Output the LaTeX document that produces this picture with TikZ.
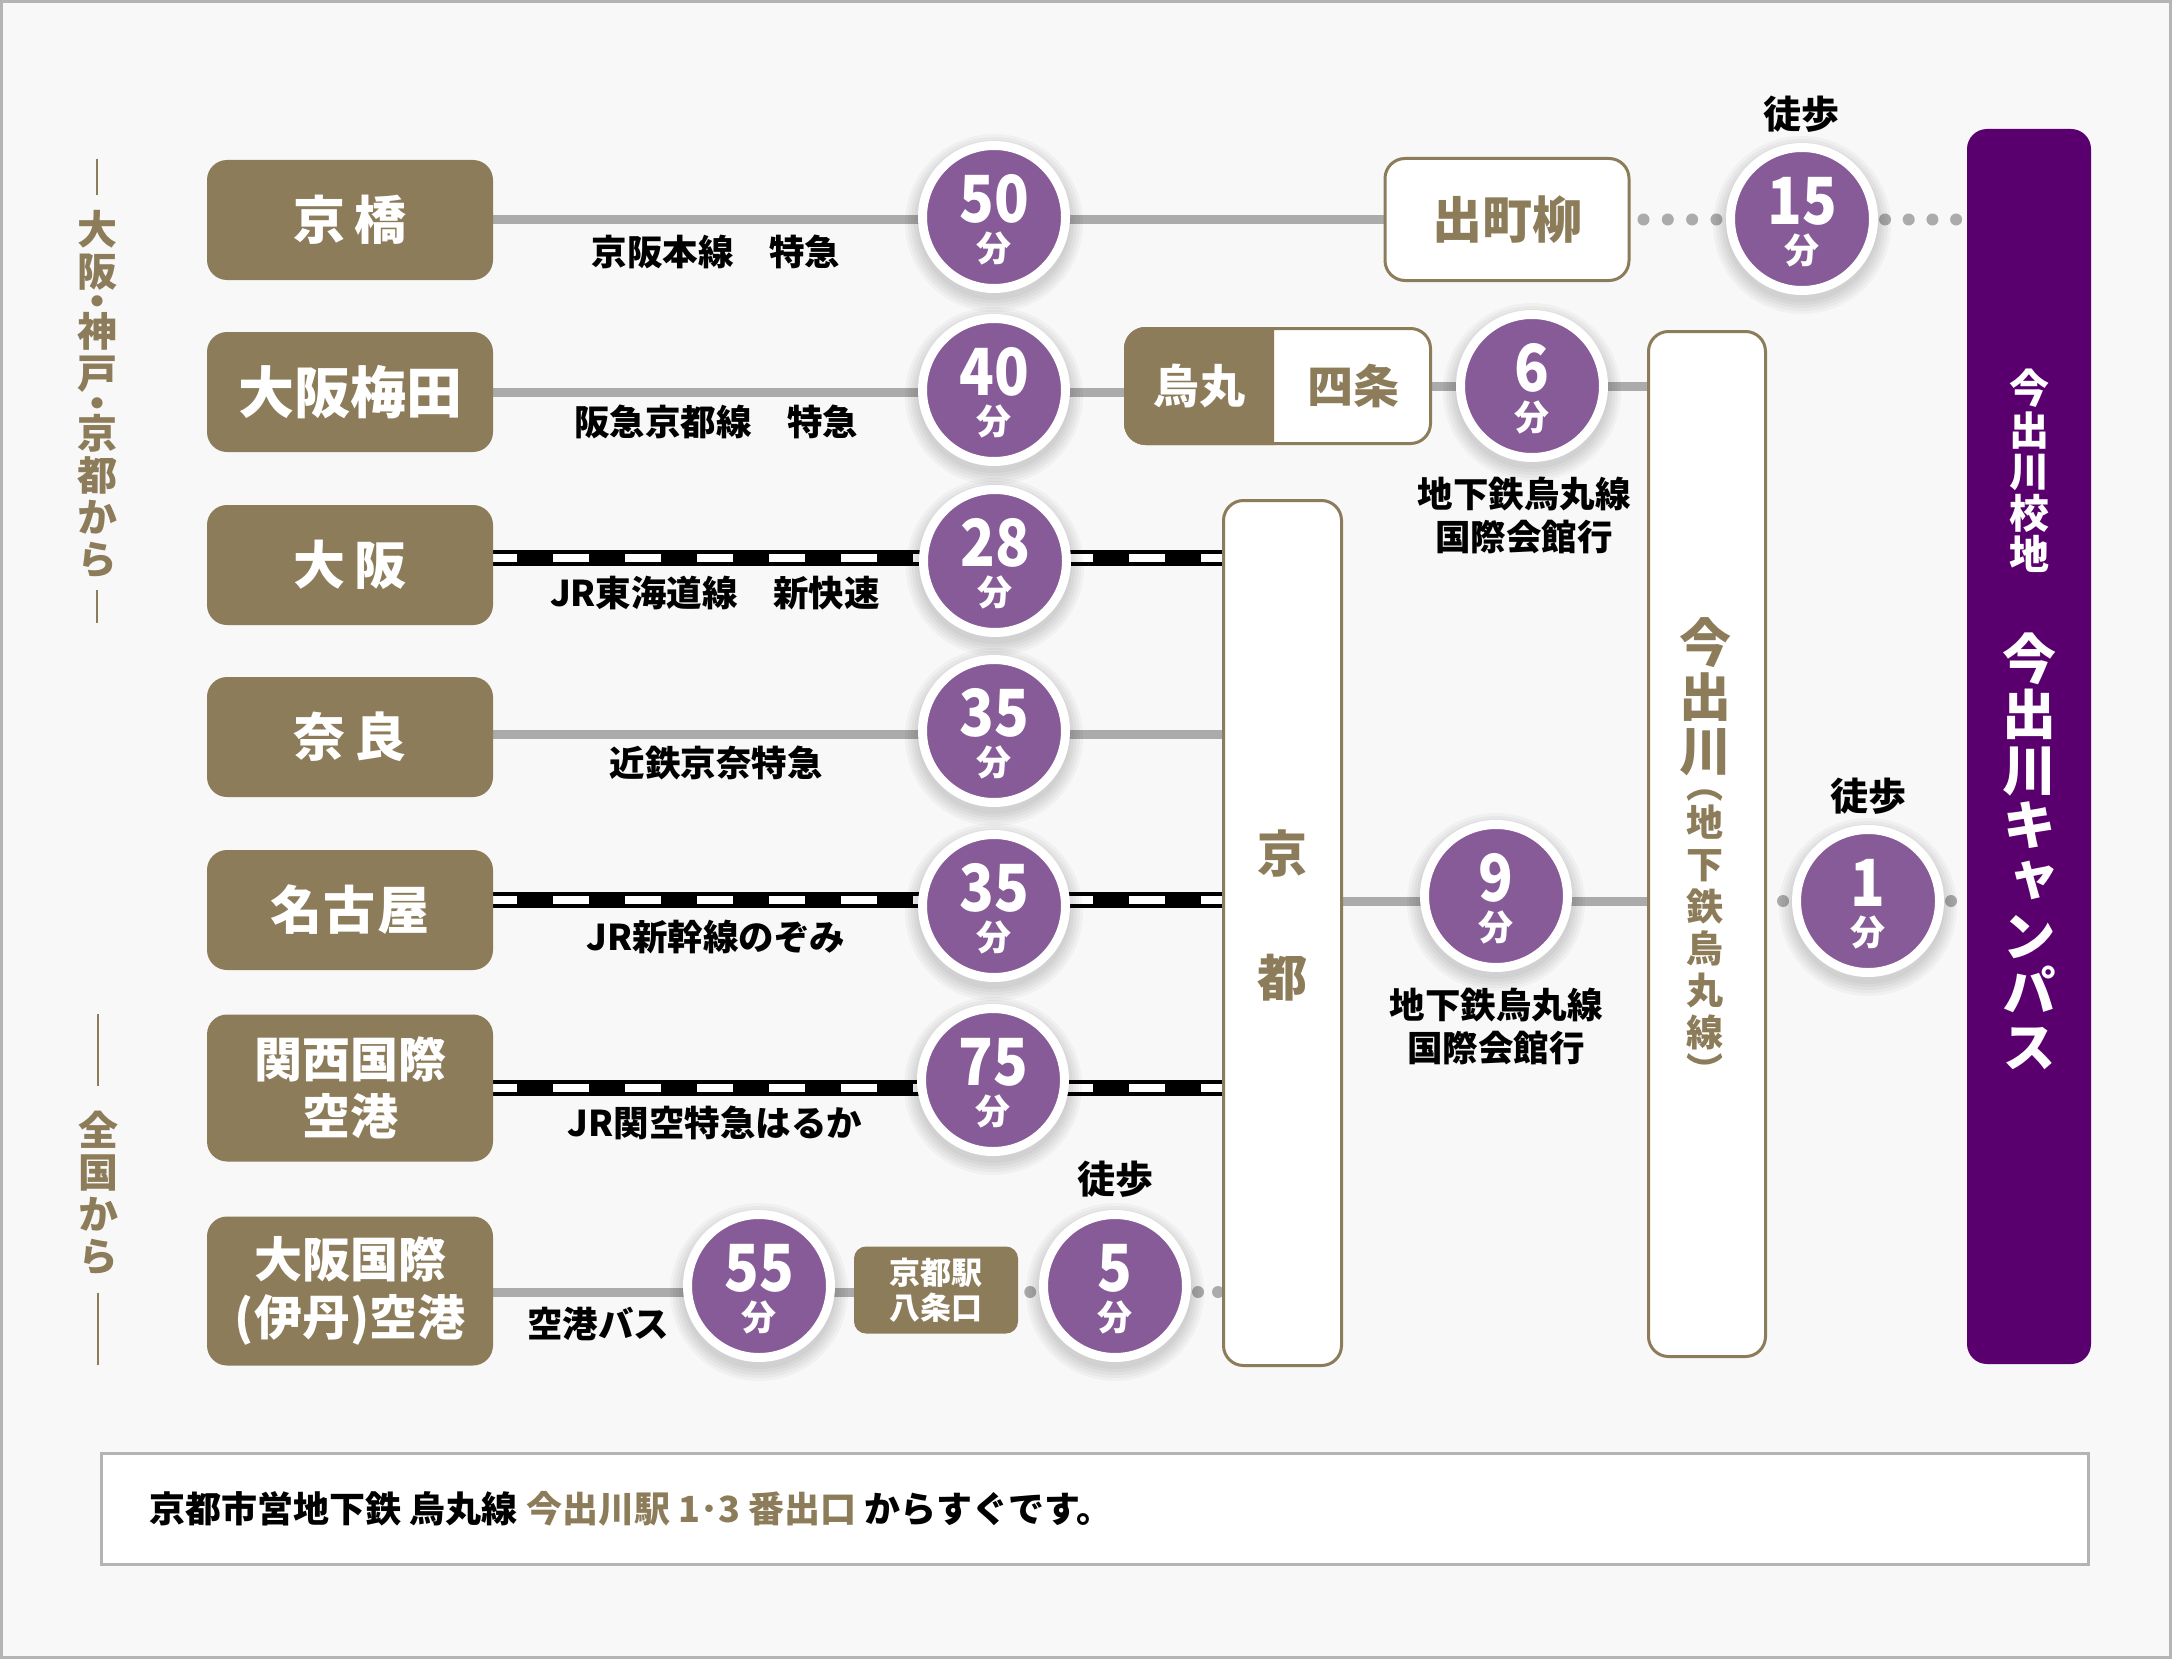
\documentclass[tikz,border=0pt]{standalone}
\usepackage{fontspec}
\setmainfont{Noto Sans CJK JP}
\newfontfamily\vjp{Noto Sans CJK JP}[RawFeature=+vert]
\usetikzlibrary{positioning}
\definecolor{gold}{HTML}{8C7C5A}
\definecolor{tpurple}{HTML}{875B98}
\definecolor{campuspurple}{HTML}{5A006E}
\definecolor{railgray}{HTML}{ABABAB}
\definecolor{pagebg}{HTML}{F8F8F8}
\definecolor{framegray}{HTML}{B4B4B4}
\newcommand\fsz[2]{\fontsize{#1}{#2}\selectfont}
\pgfdeclarelayer{back}
\pgfdeclarelayer{lines}
\pgfsetlayers{back,lines,main}
% purple minutes badge with a soft shadow
\newcommand\mincircle[4]{%
  \foreach \r in {77,80,83,86,89} \fill[black, opacity=0.03] (#2,#3+6) circle (\r);
  \node[timecircle] (#1) at (#2,#3) {};
  \node[minnum] (#1num) at ([yshift=18pt]#1.center) {\scalebox{0.88}[1]{#4}};
  \node[minunit] (#1unit) at ([yshift=-31pt]#1.center) {分};}

\begin{document}
\begin{tikzpicture}[x=1pt, y=-1pt,
    every node/.style={inner sep=0pt},
    origin/.style={fill=gold, rounded corners=20pt, minimum width=286pt, minimum height=120pt, text=white, align=center},
    stopbox/.style={fill=white, draw=gold, line width=3pt, rounded corners=20pt, text=gold, align=center},
    timecircle/.style={circle, fill=tpurple, draw=white, line width=9pt, minimum size=143pt},
    minnum/.style={text=white, font=\bfseries\fsz{65pt}{65pt}},
    minunit/.style={text=white, font=\bfseries\fsz{35pt}{35pt}},
    linelabel/.style={align=center, font=\bfseries\fsz{35.5pt}{43pt}},
    rail/.style={draw=railgray, line width=9pt},
    jr/.style={draw=white, line width=8pt, dash pattern=on 36pt off 36pt, dash phase=12pt,
      preaction={draw=black, line width=16pt, solid}},
    walk/.style args={#1/#2}{draw=railgray, line width=12pt, line cap=round, dash pattern=on 0pt off #1pt, dash phase=#2pt},
    vlabel/.style={text=gold, align=center, font=\vjp\bfseries\fsz{40pt}{42pt}},
    tick/.style={draw=gold, line width=2.5pt}]
    \useasboundingbox (0,0) rectangle (2172,1659);

    % Page
    \begin{pgfonlayer}{back}
    \fill[pagebg] (0,0) rectangle (2172,1659);
    \draw[framegray, line width=3pt] (1.5,1.5) rectangle (2170.5,1657.5);
    \end{pgfonlayer}

    % Row heights of the lines
    \coordinate (y1) at (0,219.5);
    \coordinate (y2a) at (0,392);
    \coordinate (y2b) at (0,386);
    \coordinate (y3) at (0,557.5);
    \coordinate (y4) at (0,734);
    \coordinate (y5) at (0,900);
    \coordinate (y6) at (0,1088);
    \coordinate (y7) at (0,1292);
    \coordinate (y9) at (0,901);

    % Side captions
    \node[vlabel] (fromwest) at (97,394) {大\\阪\\[-12pt]・\\[-12pt]神\\戸\\[-12pt]・\\[-12pt]京\\都\\か\\ら};
    \draw[tick] (97,159) -- (97,195);
    \draw[tick] (97,590) -- (97,623);
    \node[vlabel] (fromall) at (98,1193) {全\\国\\か\\ら};
    \draw[tick] (98,1014) -- (98,1086);
    \draw[tick] (98,1293) -- (98,1365);

    % Departure stations
    \node[origin, font=\bfseries\fsz{52pt}{60pt}] (kyobashi) at (350,220) {京\hspace{10pt}橋};
    \node[origin, font=\bfseries\fsz{56pt}{60pt}] (umeda) at (350,392) {大阪梅田};
    \node[origin, font=\bfseries\fsz{52pt}{60pt}] (osaka) at (350,565) {大\hspace{10pt}阪};
    \node[origin, font=\bfseries\fsz{52pt}{60pt}] (nara) at (350,737) {奈\hspace{10pt}良};
    \node[origin, font=\bfseries\fsz{52pt}{60pt}] (nagoya) at (350,910) {名\hspace{2pt}古\hspace{2pt}屋};
    \node[origin, minimum height=147pt, font=\bfseries\fsz{48pt}{57pt}] (kansai) at (350,1088) {関西国際\\空港};
    \node[origin, minimum height=149pt, font=\bfseries\fsz{48pt}{58pt}] (itami) at (350,1291) {大阪国際\\(伊丹)空港};

    % Transfer stations
    \node[stopbox, minimum width=244pt, minimum height=122pt, font=\bfseries\fsz{50pt}{60pt}] (demachi) at (1507,219.5) {出町柳};
    \node[stopbox, minimum width=305pt, minimum height=115pt] (krsj) at (1278,386) {};
    \begin{scope}
      \clip (1120,300) rectangle (1274,470);
      \node[stopbox, fill=gold, minimum width=305pt, minimum height=115pt] (krsjleft) at (1278,386) {};
    \end{scope}
    \node[text=white, font=\bfseries\fsz{46pt}{50pt}] (karasuma) at (1199,386) {烏丸};
    \node[text=gold, font=\bfseries\fsz{46pt}{50pt}] (shijo) at (1353,386) {四条};
    \node[stopbox, minimum width=118pt, minimum height=865pt] (kyoto) at (1282.5,933) {};
    \node[text=gold, align=center, font=\bfseries\fsz{50pt}{124pt}] (kyotoname) at (1282,915) {京\\都};
    \node[stopbox, minimum width=117pt, minimum height=1025pt] (imadegawa) at (1707,844) {};
    \node[vlabel, font=\vjp\bfseries\fsz{52pt}{54pt}] (imadegawaname) at (1705,697) {今\\出\\川};
    \node[vlabel, font=\vjp\bfseries\fsz{37pt}{42pt}] (imadegawaline) at (1705,937) {︵\\[-4pt]地\\下\\鉄\\烏\\丸\\線\\[-4pt]︶};
    \node[origin, rounded corners=12pt, minimum width=164pt, minimum height=87pt, font=\bfseries\fsz{31pt}{35pt}] (hachijo) at (936,1290) {京都駅\\八条口};

    % Campus
    \node[fill=campuspurple, rounded corners=20pt, minimum width=124pt, minimum height=1235pt] (campus) at (2029,746.5) {};
    \node[text=white, align=center, font=\vjp\bfseries\fsz{40pt}{41.6pt}] (campussite) at (2029,471) {今\\出\\川\\校\\地};
    \node[text=white, align=center, font=\vjp\bfseries\fsz{54pt}{55.4pt}] (campusname) at (2029,851) {今\\出\\川\\キ\\ャ\\ン\\パ\\ス};

    % Travel times
    \mincircle{t50}{994}{217}{50}
    \mincircle{t40}{994}{390}{40}
    \mincircle{t28}{995}{561}{28}
    \mincircle{t35a}{994}{731}{35}
    \mincircle{t35b}{994}{906}{35}
    \mincircle{t75}{993}{1080}{75}
    \mincircle{t55}{759}{1286}{55}
    \mincircle{t5}{1115}{1286}{5}
    \mincircle{t6}{1532}{386}{6}
    \mincircle{t9}{1496}{896}{9}
    \mincircle{t15}{1802}{219}{15}
    \mincircle{t1}{1868}{901}{1}

    % Line names
    \node[linelabel] (keihan) at (716,252) {京阪本線　特急};
    \node[linelabel] (hankyu) at (716,422) {阪急京都線　特急};
    \node[linelabel] (tokaido) at (715,593) {JR東海道線　新快速};
    \node[linelabel] (kintetsu) at (716,763) {近鉄京奈特急};
    \node[linelabel] (shinkansen) at (716,937) {JR新幹線のぞみ};
    \node[linelabel] (haruka) at (715,1123) {JR関空特急はるか};
    \node[linelabel] (bus) at (598,1324) {空港バス};
    \node[linelabel] (subway6) at (1524,515.5) {地下鉄烏丸線\\国際会館行};
    \node[linelabel] (subway9) at (1496,1026.5) {地下鉄烏丸線\\国際会館行};
    \node[linelabel, font=\bfseries\fsz{38pt}{40pt}] (walk15) at (1801,114) {徒歩};
    \node[linelabel, font=\bfseries\fsz{38pt}{40pt}] (walk1) at (1868,796) {徒歩};
    \node[linelabel, font=\bfseries\fsz{38pt}{40pt}] (walk5) at (1115,1179) {徒歩};

    % Connectors
    \begin{pgfonlayer}{lines}
    \draw[rail] (kyobashi.east |- y1) -- (demachi.west |- y1);
    \draw[walk=24.3/11.3] (demachi.east |- y1) -- (t15.west |- y1);
    \draw[walk=23.7/16.7] (t15.east |- y1) -- (campus.west |- y1);
    \draw[rail] (umeda.east |- y2a) -- (krsj.west |- y2a);
    \draw[rail] (krsj.east |- y2b) -- (imadegawa.west |- y2b);
    \draw[jr] (osaka.east |- y3) -- (kyoto.west |- y3);
    \draw[rail] (nara.east |- y4) -- (kyoto.west |- y4);
    \draw[jr] (nagoya.east |- y5) -- (kyoto.west |- y5);
    \draw[jr] (kansai.east |- y6) -- (kyoto.west |- y6);
    \draw[rail] (itami.east |- y7) -- (hachijo.west |- y7);
    \draw[walk=24/12] (hachijo.east |- y7) -- (t5.west |- y7);
    \draw[walk=20/13] (t5.east |- y7) -- (kyoto.west |- y7);
    \draw[rail] (kyoto.east |- y9) -- (imadegawa.west |- y9);
    \draw[walk=24/8] (imadegawa.east |- y9) -- (t1.west |- y9);
    \draw[walk=24/17] (t1.east |- y9) -- (campus.west |- y9);
    \end{pgfonlayer}

    % Note
    \node[fill=white, draw=framegray, line width=3pt, minimum width=1987pt, minimum height=111pt] (note) at (1094.5,1508.5) {};
    \node[anchor=west, font=\bfseries\fsz{36pt}{40pt}] (notetext) at ([xshift=50pt]note.west)
      {京都市営地下鉄 烏丸線 {\color{gold}今出川駅 1･3 番出口} からすぐです。};
\end{tikzpicture}
\end{document}
